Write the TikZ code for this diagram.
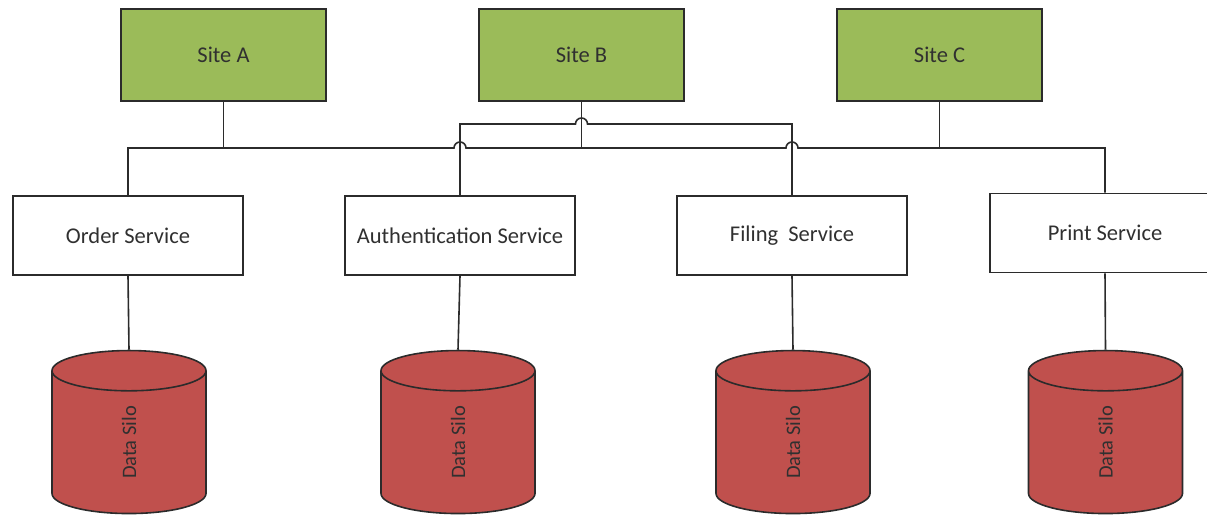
\documentclass[tikz,border=0pt]{standalone}
\usepackage{fontspec}
\setmainfont{Carlito}
\usetikzlibrary{shapes.geometric}
\definecolor{sitegreen}{HTML}{9BBB59}
\definecolor{silored}{HTML}{C0504D}
\definecolor{edge}{HTML}{2B2B2B}
\definecolor{label}{HTML}{303030}
\begin{document}
\begin{tikzpicture}[x=1pt,y=-1pt,line width=1.6pt,
    site/.style={draw=edge,fill=sitegreen,minimum width=205pt,minimum height=92pt,
      inner sep=0pt,text=label,font=\fontsize{22.5}{27}\selectfont},
    service/.style={draw=edge,fill=white,minimum width=230pt,minimum height=79pt,
      inner sep=0pt,text=label,font=\fontsize{22.5}{27}\selectfont},
    silo/.style={cylinder,draw=edge,fill=silored,rotate=90,aspect=2.8,
      minimum height=163pt,minimum width=154pt,inner sep=0pt,text=label,
      font=\fontsize{20.5}{24}\selectfont}]
  \useasboundingbox (0,0) rectangle (1207,515);
  \draw
    (223.5,55) node[site] (siteA){Site A}
    (581.5,55) node[site] (siteB){Site B}
    (939.5,55) node[site] (siteC){Site C}
    (128,235.5) node[service] (order){Order Service}
    (460,235.5) node[service] (auth){Authentication Service}
    (792,235.5) node[service] (filing){Filing\ \ Service}
    (1105,233) node[service] (print){Print Service}
    (129,442.5) node[silo] (siloA){Data Silo}
    (458,442.5) node[silo] (siloB){Data Silo}
    (793,442.5) node[silo] (siloC){Data Silo}
    (1105.5,442.5) node[silo] (siloD){Data Silo};
  \coordinate (bus) at (0,148);
  \begin{scope}[draw=edge]
    \draw (order.north) |- (454,148) arc[start angle=180,end angle=360,radius=6]
      -- (786,148) arc[start angle=180,end angle=360,radius=6] -| (print.north);
    \draw (auth.north) |- (575.5,124) arc[start angle=180,end angle=360,radius=6]
      -| (filing.north);
    \draw (siteA.south) -- (siteA.south |- bus);
    \draw (siteB.south) -- (siteB.south |- bus);
    \draw (siteC.south) -- (siteC.south |- bus);
    \draw (order.south) -- (siloA.east);
    \draw (auth.south) -- (siloB.east);
    \draw (filing.south) -- (siloC.east);
    \draw (print.south) -- (siloD.east);
  \end{scope}
\end{tikzpicture}
\end{document}
